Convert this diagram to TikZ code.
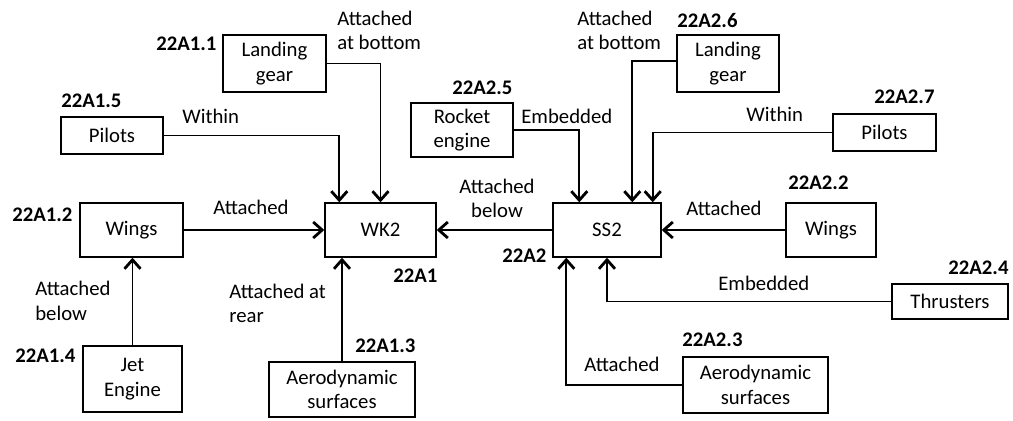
\documentclass[tikz,border=0pt]{standalone}
\usepackage{fontspec}
\setmainfont{Carlito}
\usetikzlibrary{arrows.meta}

\begin{document}
\begin{tikzpicture}[x=0.2mm, y=-0.2mm,
  every node/.style={font=\fontsize{11.8}{14}\selectfont, inner sep=0pt},
  box/.style={draw, line width=0.8pt, align=center},
  line/.style={draw, line width=1.1pt, -{Straight Barb[length=1.8mm, width=3.2mm, line width=1.6pt]}},
  rel/.style={anchor=west, align=left},
  idlab/.style={anchor=west, font=\fontsize{11.8}{14}\selectfont\bfseries}
]
\useasboundingbox (0,0) rectangle (1013,421);

% Main vehicles
\node[box, minimum width=22.2mm, minimum height=10.8mm] (wk2) at (380.5, 230) {WK2};
\node[box, minimum width=21.6mm, minimum height=10.8mm] (ss2) at (607, 230) {SS2};

% WK2 parts
\node[box, minimum width=20.6mm, minimum height=11.4mm] (lg1) at (274.5, 63.5) {Landing\\gear};
\node[box, minimum width=20.4mm, minimum height=7.4mm] (pil1) at (112, 135.5) {Pilots};
\node[box, minimum width=20.6mm, minimum height=10.8mm] (wing1) at (131.5, 230) {Wings};
\node[box, minimum width=19.8mm, minimum height=13.2mm] (jet) at (132.5, 379) {Jet\\Engine};
\node[box, minimum width=29.2mm, minimum height=11mm] (aero1) at (342, 389.5) {Aerodynamic\\surfaces};

% SS2 parts
\node[box, minimum width=20.4mm, minimum height=10.8mm] (rock) at (462, 130) {Rocket\\engine};
\node[box, minimum width=20.4mm, minimum height=11.4mm] (lg2) at (728, 63.5) {Landing\\gear};
\node[box, minimum width=20.6mm, minimum height=7.4mm] (pil2) at (884.5, 132.5) {Pilots};
\node[box, minimum width=18mm, minimum height=10.8mm] (wing2) at (831, 230) {Wings};
\node[box, minimum width=23.2mm, minimum height=7mm] (thr) at (950, 301.5) {Thrusters};
\node[box, minimum width=29mm, minimum height=11.2mm] (aero2) at (755.5, 385) {Aerodynamic\\surfaces};

% Identifiers
\node[idlab] (id1) at (393, 276) {22A1};
\node[idlab] (id11) at (156, 44) {22A1.1};
\node[idlab] (id15) at (61, 101) {22A1.5};
\node[idlab] (id12) at (12, 215) {22A1.2};
\node[idlab] (id14) at (15, 356) {22A1.4};
\node[idlab] (id13) at (355, 346) {22A1.3};
\node[idlab] (id2) at (502, 256) {22A2};
\node[idlab] (id25) at (452, 88) {22A2.5};
\node[idlab] (id26) at (677, 21) {22A2.6};
\node[idlab] (id27) at (874, 97) {22A2.7};
\node[idlab] (id22) at (788, 183) {22A2.2};
\node[idlab] (id24) at (948, 268) {22A2.4};
\node[idlab] (id23) at (682, 340) {22A2.3};

% Relation labels
\node[rel] (rlg1) at (337, 30.5) {Attached\\at bottom};
\node[rel] (rpil1) at (182, 116) {Within};
\node[rel] (rwing1) at (213, 207) {Attached};
\node[rel] (rjet) at (35, 301) {Attached\\below};
\node[rel] (raero1) at (229, 303.5) {Attached at\\rear};
\node[align=center] (rss2) at (497, 198.5) {Attached\\below};
\node[rel] (rrock) at (521, 116) {Embedded};
\node[rel] (rlg2) at (577, 30.5) {Attached\\at bottom};
\node[rel] (rpil2) at (746, 114) {Within};
\node[rel] (rwing2) at (686, 208) {Attached};
\node[rel] (rthr) at (718, 283) {Embedded};
\node[rel] (raero2) at (584, 364) {Attached};

% Connectors into WK2
\draw[line] (lg1.east) -| (wk2.north);
\draw[line] (pil1.east) -| ([xshift=3mm]wk2.north west);
\draw[line] (wing1) -- (wk2);
\draw[line] (jet.north) -- (jet.north |- wing1.south);
\draw[line] (aero1.north) -- (aero1.north |- wk2.south);
\draw[line] (ss2) -- (wk2);

% Connectors into SS2
\draw[line] (rock.east) -| ([xshift=5.4mm]ss2.north west);
\draw[line] ([yshift=0.5mm]lg2.west) -| ([xshift=16mm]ss2.north west);
\draw[line] (pil2.west) -| ([xshift=-1.8mm]ss2.north east);
\draw[line] (wing2) -- (ss2);
\draw[line] (thr.west) -| (ss2.south);
\draw[line] (aero2.west) -| ([xshift=2.8mm]ss2.south west);

\end{tikzpicture}
\end{document}
